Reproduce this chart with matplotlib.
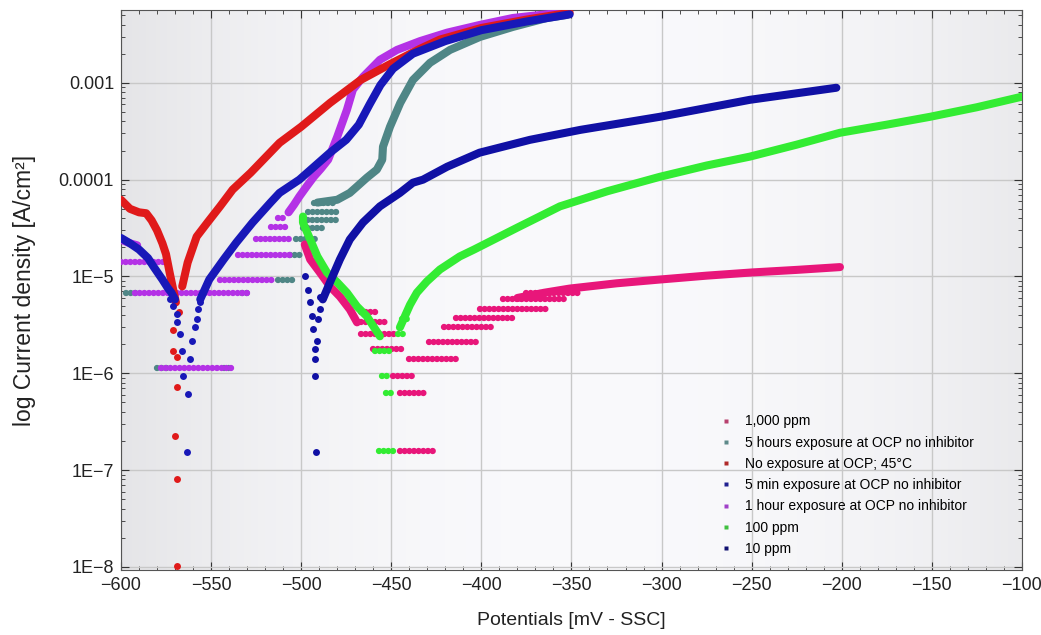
import numpy as np
import matplotlib
matplotlib.use("Agg")
import matplotlib.pyplot as plt
from matplotlib.lines import Line2D
from matplotlib.ticker import MultipleLocator, LogLocator, NullFormatter

plt.rcParams['font.family'] = ['Liberation Sans', 'DejaVu Sans']

# potentials in mV vs SSC, current density in A/cm2

# No exposure at OCP; 45°C
red_cath_E = [-600, -595, -590, -586, -583, -580, -577, -575, -573, -571, -569.5]
red_cath_i = [6.2e-5, 5.0e-5, 4.6e-5, 4.5e-5, 3.8e-5, 3.0e-5, 2.2e-5, 1.7e-5, 1.1e-5, 7.3e-6, 5.4e-6]
red_anod_E = [-566, -563, -558, -552, -545, -538, -528, -512, -500, -484, -467, -451, -434, -423, -400, -375, -351]
red_anod_i = [7.9e-6, 1.39e-5, 2.58e-5, 3.61e-5, 5.3e-5, 7.9e-5, 1.18e-4, 2.4e-4, 3.52e-4, 6.2e-4,
              1.07e-3, 1.55e-3, 2.25e-3, 2.8e-3, 3.69e-3, 4.5e-3, 5.3e-3]
red_dots_E = [-571, -571, -569, -569, -570, -569, -569, -568]
red_dots_i = [2.8e-6, 1.7e-6, 1.46e-6, 7.2e-7, 2.24e-7, 8.0e-8, 1.02e-8, 4.3e-6]

# 5 min exposure at OCP no inhibitor
blue_cath_E = [-600, -595, -590, -585, -582, -577, -574, -572, -570]
blue_cath_i = [2.5e-5, 2.2e-5, 1.9e-5, 1.55e-5, 1.27e-5, 9.3e-6, 7.6e-6, 6.8e-6, 5.8e-6]
blue_anod_E = [-556, -551, -543, -536, -527, -517, -512, -501, -484, -475, -468, -462, -456, -449,
               -438, -420, -400, -375, -351]
blue_anod_i = [5.8e-6, 9.3e-6, 1.5e-5, 2.24e-5, 3.6e-5, 5.8e-5, 7.3e-5, 1.0e-4, 1.9e-4, 2.58e-4,
               3.7e-4, 6.0e-4, 9.5e-4, 1.4e-3, 2.0e-3, 2.7e-3, 3.5e-3, 4.3e-3, 5.1e-3]
blue_dots_E = [-572.8, -571.1, -568.9, -568.9, -567.3, -566.2, -565.6,
               -556.2, -557.3, -557.8, -558.9, -560.6, -561.7, -562.8, -563.4]
blue_dots_i = [5.8e-6, 4.9e-6, 4.06e-6, 3.36e-6, 2.52e-6, 1.69e-6, 9.3e-7,
               5.5e-6, 4.57e-6, 3.61e-6, 2.98e-6, 2.14e-6, 1.39e-6, 6.1e-7, 1.53e-7]

# 1 hour exposure at OCP no inhibitor
purple_cath_E = [-600, -595, -591]
purple_cath_i = [2.4e-5, 2.2e-5, 2.1e-5]
purple_anod_E = [-507, -504, -501, -497, -493, -489, -485, -480, -474.6, -471.3, -465.7, -456.3,
                 -446.8, -434, -419, -401, -382.5, -352.5]
purple_anod_i = [4.6e-5, 5.5e-5, 6.7e-5, 8.5e-5, 1.07e-4, 1.3e-4, 1.61e-4, 2.77e-4, 5.27e-4, 8.5e-4,
                 1.15e-3, 1.73e-3, 2.19e-3, 2.7e-3, 3.3e-3, 3.96e-3, 4.68e-3, 5.39e-3]
purple_rows = [(-600, -574, 1.42e-5), (-592, -530, 6.7e-6), (-578, -538, 1.13e-6),
               (-545, -515, 9.1e-6), (-535, -505, 1.65e-5), (-525, -505, 2.46e-5),
               (-517, -508, 3.27e-5), (-513, -508, 4.06e-5)]

# 5 hours exposure at OCP no inhibitor
teal_anod_E = [-491, -480, -473, -469, -463.5, -458, -455, -454.6, -450.7, -445, -438, -428.5,
               -417.4, -400.8, -382.5, -363.6, -352.5]
teal_anod_i = [5.8e-5, 6.2e-5, 7.3e-5, 8.5e-5, 1.05e-4, 1.27e-4, 1.61e-4, 2.19e-4, 3.52e-4, 6.2e-4,
               1.07e-3, 1.61e-3, 2.19e-3, 2.98e-3, 3.78e-3, 4.68e-3, 5.03e-3]
teal_rows = [(-597, -591, 6.7e-6), (-533, -529, 6.7e-6), (-580, -573, 1.13e-6), (-543, -538, 1.13e-6),
             (-513, -503, 9.1e-6), (-506, -499, 1.65e-5), (-503, -490, 2.46e-5),
             (-499, -487, 3.2e-5), (-499, -480, 3.87e-5), (-496, -480, 4.6e-5), (-493, -480, 5.8e-5)]

# 1,000 ppm
pink_cath_E = [-498, -495, -489.6, -484, -478.5, -473, -469]
pink_cath_i = [2.14e-5, 1.5e-5, 1.1e-5, 7.9e-6, 6.2e-6, 4.57e-6, 3.36e-6]
pink_anod_E = [-380, -365, -351, -325, -301, -275, -250, -225, -201]
pink_anod_i = [6.0e-6, 6.8e-6, 7.5e-6, 8.5e-6, 9.3e-6, 1.02e-5, 1.1e-5, 1.17e-5, 1.25e-5]
pink_rows = [(-467, -458, 4.26e-6), (-467, -452, 3.36e-6), (-467, -447, 2.52e-6),
             (-460, -443, 1.77e-6), (-440, -414, 1.39e-6), (-429, -401, 2.1e-6),
             (-421, -394, 2.98e-6), (-414, -382, 3.69e-6), (-401, -364, 4.57e-6),
             (-388, -352, 5.8e-6), (-375, -345, 6.8e-6), (-449, -438, 9.3e-7),
             (-445, -430, 6.2e-7), (-445, -425, 1.57e-7)]

# 100 ppm
green_cath_E = [-499, -499, -495, -491, -485.7, -480, -474.6, -469, -463.5, -456.3]
green_cath_i = [4.16e-5, 3.61e-5, 2.41e-5, 1.61e-5, 1.1e-5, 8.7e-6, 6.8e-6, 4.9e-6, 3.87e-6, 2.41e-6]
green_anod_E = [-445.2, -439.6, -435.8, -430.2, -423, -412, -404, -380, -356.4, -330, -301, -275,
                -251, -225, -201, -175, -151, -125, -100]
green_anod_i = [2.98e-6, 5.1e-6, 6.8e-6, 8.9e-6, 1.18e-5, 1.61e-5, 1.9e-5, 3.2e-5, 5.3e-5, 7.6e-5,
                1.07e-4, 1.4e-4, 1.73e-4, 2.3e-4, 3.05e-4, 3.7e-4, 4.46e-4, 5.6e-4, 7.2e-4]
green_rows = [(-459, -449, 1.69e-6), (-455, -451, 9.3e-7), (-453, -448, 6.2e-7),
              (-457, -449, 1.57e-7), (-446, -441, 2.52e-6), (-444, -440, 3.6e-6)]

# 10 ppm
navy_cath_E = [-498, -496, -495, -494, -493.5, -492.4, -492.4, -492.4]
navy_cath_i = [1.0e-5, 7.3e-6, 5.4e-6, 3.87e-6, 2.84e-6, 1.77e-6, 1.39e-6, 9.3e-7]
navy_anod_E = [-488, -484, -478.5, -473, -465.7, -456.3, -445.2, -438, -432.4, -419, -401, -373,
               -345, -301, -251, -203]
navy_anod_i = [5.8e-6, 8.7e-6, 1.5e-5, 2.41e-5, 3.61e-5, 5.3e-5, 7.3e-5, 9.3e-5, 1.0e-4, 1.36e-4,
               1.9e-4, 2.58e-4, 3.27e-4, 4.46e-4, 6.68e-4, 8.9e-4]
navy_dots_E = [-491.8, -491, -490.7, -489.6, -489.6]
navy_dots_i = [1.53e-7, 2.14e-6, 3.61e-6, 4.57e-6, 6.2e-6]

legend_labels = ["1,000 ppm", "5 hours exposure at OCP no inhibitor", "No exposure at OCP; 45°C",
                 "5 min exposure at OCP no inhibitor", "1 hour exposure at OCP no inhibitor",
                 "100 ppm", "10 ppm"]

c_pink, c_teal, c_red = '#e8167a', '#4f8686', '#e01a1a'
c_blue, c_purple, c_green, c_navy = '#1818b8', '#b432e6', '#33ec33', '#1010a4'
legend_colors = ['#b8406e', '#5e8a8a', '#b02a2a', '#202090', '#a040c8', '#40c040', '#101070']

fig = plt.figure(figsize=(10.41, 6.35), dpi=100)
ax = fig.add_axes([0.1162, 0.1024, 0.8655, 0.8819])

# soft grey vignette behind the data
grad = np.linspace(-1, 1, 256)
shade = 0.978 - 0.06 * np.abs(grad) ** 2.2 - 0.02 * (grad < 0) * np.abs(grad) ** 2
img = np.stack([shade, shade, shade + 0.01], axis=-1)
img = np.clip(np.repeat(img[None, :, :], 2, axis=0), 0, 1)
ax.imshow(img, extent=[0, 1, 0, 1], transform=ax.transAxes, aspect='auto', zorder=0)


def curve(E, i, color, z):
    ax.plot(E, i, '-', color=color, lw=5.8, solid_capstyle='round', solid_joinstyle='round', zorder=z)


def dots(E, i, color, z):
    ax.plot(E, i, 'o', color=color, ms=5, mec='none', zorder=z)


def rows(rr, color, z):
    for e0, e1, i in rr:
        ax.plot([e0, e1], [i, i], color=color, lw=4.6, ls=(0, (0.01, 0.72)),
                dash_capstyle='round', zorder=z)


rows(teal_rows, c_teal, 2)
curve(teal_anod_E, teal_anod_i, c_teal, 2)
rows(pink_rows, c_pink, 2)
curve(pink_cath_E, pink_cath_i, c_pink, 2)
curve(pink_anod_E, pink_anod_i, c_pink, 2)
rows(purple_rows, c_purple, 3)
curve(purple_cath_E, purple_cath_i, c_purple, 3)
curve(purple_anod_E, purple_anod_i, c_purple, 3)
rows(green_rows, c_green, 3)
curve(green_cath_E, green_cath_i, c_green, 3)
curve(green_anod_E, green_anod_i, c_green, 3)
curve(red_cath_E, red_cath_i, c_red, 3)
curve(red_anod_E, red_anod_i, c_red, 3)
dots(red_dots_E, red_dots_i, c_red, 3)
curve(blue_cath_E, blue_cath_i, c_blue, 4)
curve(blue_anod_E, blue_anod_i, c_blue, 4)
dots(blue_dots_E, blue_dots_i, c_blue, 4)
curve(navy_anod_E, navy_anod_i, c_navy, 5)
dots(navy_cath_E, navy_cath_i, c_navy, 5)
dots(navy_dots_E, navy_dots_i, c_navy, 5)

ax.set_yscale('log')
ax.set_xlim(-600, -100)
ax.set_ylim(9.3e-9, 5.66e-3)
ax.set_xticks(list(range(-600, -99, 50)))
ax.set_xticklabels([f"\u2212{abs(v)}" for v in range(-600, -99, 50)])
ax.xaxis.set_minor_locator(MultipleLocator(10))
ax.set_yticks([1e-8, 1e-7, 1e-6, 1e-5, 1e-4, 1e-3])
ax.set_yticklabels(['1E\u22128', '1E\u22127', '1E\u22126', '1E\u22125', '0.0001', '0.001'])
ax.yaxis.set_minor_locator(LogLocator(base=10, subs=np.arange(2, 10)))
ax.yaxis.set_minor_formatter(NullFormatter())
ax.tick_params(which='both', direction='in', top=True, right=True, labelsize=13,
               color='#333333', labelcolor='#222222')
ax.tick_params(which='major', length=6, pad=5)
ax.tick_params(which='minor', length=3)
ax.grid(True, which='major', color='#c8c8c8', lw=1)
for gl in ax.get_xgridlines() + ax.get_ygridlines():
    gl.set_zorder(1)
for s in ax.spines.values():
    s.set_color('#555555')

ax.set_xlabel('Potentials [mV - SSC]', fontsize=14, color='#222222', labelpad=13)
ax.set_ylabel('log Current density [A/cm\u00b2]', fontsize=16.5, color='#222222', labelpad=16)

handles = [Line2D([], [], ls='none', marker='s', ms=3.5, color=c, mec='none') for c in legend_colors]
ax.legend(handles, legend_labels, loc='upper left', bbox_to_anchor=(0.65, 0.30), frameon=False,
          fontsize=10, labelspacing=0.52, handlelength=1.0, handletextpad=0.9)

fig.savefig('out.png', dpi=100)
